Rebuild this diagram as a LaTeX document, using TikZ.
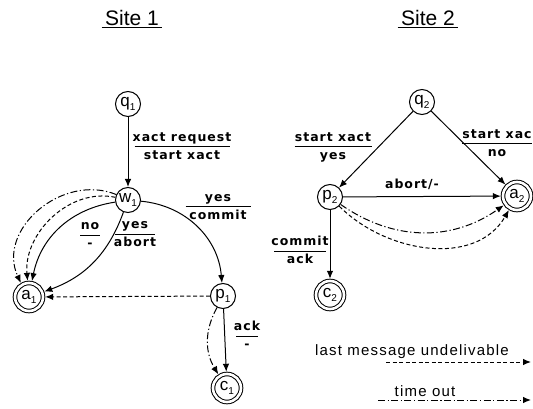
\documentclass[tikz,border=0pt]{standalone}
\usepackage{fontspec}
\setmainfont{Liberation Sans}
\newfontfamily\labfont[LetterSpace=8]{DejaVu Sans}
\newfontfamily\legfont[LetterSpace=8]{Liberation Sans}
\usetikzlibrary{arrows.meta}
\setlength{\arrayrulewidth}{1pt}
\renewcommand{\arraystretch}{1.15}
% state name with index
\newcommand{\sub}[2]{#1\raisebox{-0.5ex}{\fontsize{10}{10}\selectfont #2}}
% output over input, rule of given width
\newcommand{\frc}[3]{\begin{tabular}{@{}c@{}}\makebox[#1]{#2}\\\hline\makebox[#1]{#3}\end{tabular}}
\tikzset{
    state/.style={circle, draw, line width=1pt, minimum size=25pt, inner sep=0pt, font=\fontsize{17}{17}\selectfont},
    final/.style={state, double, double distance=2.6pt, minimum size=28pt, outer sep=2.2pt},
    lab/.style={inner sep=0pt, font=\labfont\bfseries\fontsize{12.5}{15}\selectfont},
    title/.style={font=\fontsize{21}{24}\selectfont},
    undeliv/.style={dash pattern=on 4pt off 2.5pt},
    tmout/.style={dash pattern=on 7pt off 2.5pt on 1.2pt off 2.5pt},
}
\begin{document}
\begin{tikzpicture}[x=1pt, y=-1pt, line width=1pt, >={Latex[length=8pt,width=6.5pt]}]
    \useasboundingbox (0,0) rectangle (533,409);

    % Site titles
    \node[title] (site1) at (132,19) {\underline{\,Site 1\,}};
    \node[title] (site2) at (428,19) {\underline{\,Site 2\,}};

    % Site 1 states
    \node[state] (q1) at (128,104) {\sub{q}{1}};
    \node[state] (w1) at (128,200) {\sub{w}{1}};
    \node[final] (a1) at (29,297) {\sub{a}{1}};
    \node[state] (p1) at (223,296) {\sub{p}{1}};
    \node[final] (c1) at (227,388) {\sub{c}{1}};

    % Site 2 states
    \node[state] (q2) at (422,102) {\sub{q}{2}};
    \node[state] (p2) at (330,197) {\sub{p}{2}};
    \node[final] (a2) at (517,196) {\sub{a}{2}};
    \node[final] (c2) at (330,295) {\sub{c}{2}};

    % Site 1 transitions
    \draw[->] (q1) -- (w1);
    \draw[->] (w1) to[bend left=40] (p1);
    \draw[->] (w1) to[bend right=35] (a1);
    \draw[->] (w1) to[bend left=25] (a1);
    \draw[->, undeliv] (w1.168) to[out=168, in=95] (a1.95);
    \draw[->, tmout] (w1.155) to[out=158, in=115, looseness=1.15] (a1.120);
    \draw[->, undeliv] (p1) -- (a1);
    \draw[->] (p1) -- (c1);
    \draw[->, tmout] (p1) to[bend right=30] (c1);

    % Site 2 transitions
    \draw[->] (q2) -- (p2);
    \draw[->] (q2) -- (a2);
    \draw[->] (p2) -- (a2);
    \draw[->] (p2) -- (c2);
    \draw[->, tmout] (p2.-35) to[out=-35, in=215] (a2.215);
    \draw[->, undeliv] (p2.-45) to[out=-45, in=240] (a2.240);

    % Labels
    \node[lab] (l1) at (182,147) {\frc{95pt}{xact request}{start xact}};
    \node[lab] (l2) at (218,207) {\frc{65pt}{yes}{commit}};
    \node[lab] (l3) at (90,235) {\frc{20pt}{no}{-}};
    \node[lab] (l4) at (135,234) {\frc{40pt}{yes}{abort}};
    \node[lab] (l5) at (247,336) {\frc{22pt}{ack}{-}};
    \node[lab] (l6) at (333,147) {\frc{77pt}{start xact}{yes}};
    \node[lab] (l7) at (497,144) {\frc{70pt}{start xac}{no}};
    \node[lab] (l8) at (412,184) {abort/-};
    \node[lab] (l9) at (300,251) {\frc{52pt}{commit}{ack}};

    % Legend
    \node[font=\legfont\fontsize{15}{17}\selectfont] (leg1) at (412,352) {last message undelivable};
    \node[font=\legfont\fontsize{15}{17}\selectfont] (leg2) at (425,391) {time out};
    \coordinate (u1) at (386,362);
    \coordinate (u2) at (531,362);
    \coordinate (t1) at (378,400);
    \coordinate (t2) at (531,400);
    \draw[->, undeliv] (u1) -- (u2);
    \draw[->, tmout] (t1) -- (t2);
\end{tikzpicture}
\end{document}
